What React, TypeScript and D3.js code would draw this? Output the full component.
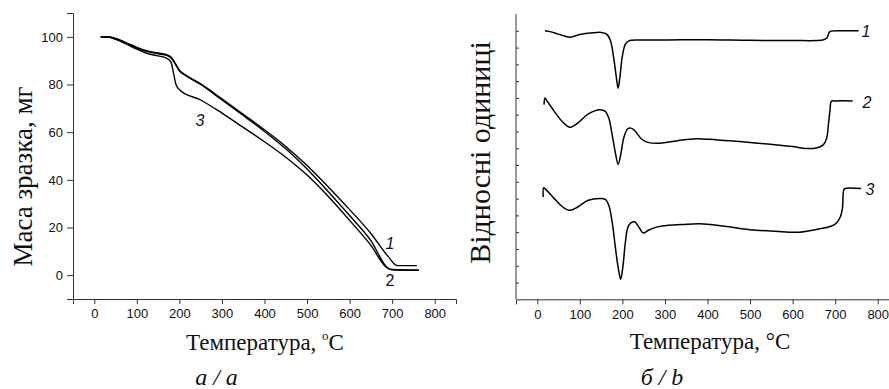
import * as d3 from "d3";
import React, { useEffect, useRef } from "react";

// TG curves: [temperature °C, mass mg]
const tg1: [number, number][] = [
  [15, 100], [35, 99.9], [50, 99.3], [75, 97.6], [100, 95.6], [125, 94.1], [150, 93.2], [170, 92.5],
  [180, 91.5], [190, 89], [200, 86], [215, 84], [250, 80.3], [300, 74], [350, 67.5], [400, 61],
  [450, 54], [500, 46], [550, 37], [600, 27.5], [650, 17.5], [690, 8], [712, 4], [740, 4], [758, 4],
];
const tg2: [number, number][] = [
  [15, 100], [35, 99.9], [50, 99.2], [75, 97.3], [100, 95.3], [125, 93.8], [150, 92.9], [170, 92.2],
  [180, 91.2], [190, 88.7], [200, 85.7], [215, 83.7], [250, 80], [300, 73.5], [350, 67], [400, 60.3],
  [450, 53], [500, 44.5], [550, 35], [600, 25], [650, 14.5], [690, 3], [700, 2.4], [763, 2.2],
];
const tg3: [number, number][] = [
  [15, 100], [35, 99.8], [50, 99.0], [75, 97.0], [100, 94.8], [125, 93.0], [150, 92.0], [170, 91.0],
  [180, 89.5], [186, 85], [192, 80], [202, 77.5], [250, 73.5], [300, 68], [350, 62], [400, 56],
  [450, 49.5], [500, 42], [550, 33], [600, 23], [650, 12.5], [688, 3], [700, 2.2], [763, 2],
];

// DTA curves: [temperature °C, relative units]
const dta1: [number, number][] = [
  [18, 16.0], [30, 15.95], [50, 15.8], [77, 15.62], [100, 15.78], [130, 15.88], [150, 15.9], [163, 15.8],
  [172, 15.4], [180, 14.3], [186, 13.2], [190, 12.57], [194, 13.2], [200, 14.5], [207, 15.2], [215, 15.4],
  [240, 15.45], [300, 15.45], [400, 15.47], [500, 15.43], [600, 15.42], [671, 15.45], [680, 15.55],
  [686, 15.9], [690, 15.98], [720, 16.0], [755, 16.0],
];
const dta2: [number, number][] = [
  [16, 11.6], [18, 12.0], [22, 11.85], [40, 11.2], [60, 10.55], [77, 10.25], [95, 10.5], [120, 11.05],
  [147, 11.3], [160, 11.2], [168, 10.8], [176, 9.8], [183, 8.8], [190, 8.05], [196, 8.6], [203, 9.6],
  [212, 10.15], [220, 10.2], [229, 10.05], [245, 9.55], [260, 9.35], [288, 9.3], [330, 9.45], [374, 9.57],
  [420, 9.5], [476, 9.4], [554, 9.22], [600, 9.1], [632, 8.98], [660, 9.05], [672, 9.2], [680, 9.6],
  [684, 10.4], [688, 11.3], [691, 11.8], [700, 11.82], [741, 11.82],
];
const dta3: [number, number][] = [
  [14, 6.1], [15, 6.65], [20, 6.55], [40, 6.0], [60, 5.5], [77, 5.3], [95, 5.5], [120, 5.9], [147, 6.0],
  [160, 5.95], [168, 5.6], [176, 4.6], [183, 3.2], [190, 1.9], [196, 1.2], [201, 1.9], [207, 3.4],
  [213, 4.3], [220, 4.55], [229, 4.62], [240, 4.25], [249, 3.95], [260, 4.1], [280, 4.3], [304, 4.4],
  [340, 4.45], [382, 4.5], [440, 4.35], [499, 4.15], [560, 4.05], [616, 4.0], [664, 4.2], [690, 4.35],
  [703, 4.55], [712, 4.9], [717, 5.4], [720, 6.5], [723, 6.6], [761, 6.6],
];

const xMajor = [0, 100, 200, 300, 400, 500, 600, 700, 800];
const xMinor = [50, 150, 250, 350, 450, 550, 650, 750, 850];
const yMajorTG = [0, 20, 40, 60, 80, 100];
const yMinorTG = [-10, 10, 30, 50, 70, 90, 110];
const yTicksDTA = d3.range(1, 17);

const sans = "'Liberation Sans', Arial, sans-serif";
const serif = "'Liberation Serif', 'Times New Roman', serif";

const App: React.FC = () => {
  const ref = useRef<SVGGElement>(null);

  useEffect(() => {
    if (!ref.current) return;
    const root = d3.select(ref.current);
    root.selectAll("*").remove();

    // ---- panel a: TG ----
    const xa = d3.scaleLinear().domain([-50, 850]).range([73, 456]);
    const ya = d3.scaleLinear().domain([-10, 110]).range([299, 13]);

    const ga = root.append("g");
    const axB = ga.append("g").attr("transform", `translate(0,${ya(-10)})`);
    axB.call(d3.axisBottom(xa).tickValues(xMinor).tickSize(3).tickFormat(() => ""));
    axB.call(d3.axisBottom(xa).tickValues(xMajor).tickSize(5).tickPadding(5).tickFormat(d3.format("d")));
    const axL = ga.append("g").attr("transform", `translate(${xa(-50)},0)`);
    axL.call(d3.axisLeft(ya).tickValues(yMinorTG).tickSize(3).tickFormat(() => ""));
    axL.call(d3.axisLeft(ya).tickValues(yMajorTG).tickSize(6).tickPadding(4).tickFormat(d3.format("d")));

    const lineA = d3.line<[number, number]>().x(d => xa(d[0])).y(d => ya(d[1])).curve(d3.curveMonotoneX);
    [tg1, tg2, tg3].forEach(s => {
      ga.append("path").attr("d", lineA(s)).attr("fill", "none").attr("stroke", "#000").attr("stroke-width", 1.4);
    });

    // ---- panel b: DTA ----
    const xb = d3.scaleLinear().domain([-50, 850]).range([516, 899]);
    const yb = d3.scaleLinear().domain([0, 17]).range([299.3, 14]);

    const gb = root.append("g");
    const bxB = gb.append("g").attr("transform", `translate(0,${yb(0)})`);
    bxB.call(d3.axisBottom(xb).tickValues(xMinor).tickSize(3).tickFormat(() => ""));
    bxB.call(d3.axisBottom(xb).tickValues(xMajor).tickSize(5).tickPadding(5).tickFormat(d3.format("d")));
    const bxL = gb.append("g").attr("transform", `translate(${xb(-50)},0)`);
    bxL.call(d3.axisRight(yb).tickValues(yTicksDTA).tickSize(3).tickFormat(() => ""));
    bxL.select(".domain").attr("d", `M0,${yb(17)}V${yb(0)}`);

    const lineB = d3.line<[number, number]>().x(d => xb(d[0])).y(d => yb(d[1])).curve(d3.curveCatmullRom.alpha(0.5));
    [dta1, dta2, dta3].forEach(s => {
      gb.append("path").attr("d", lineB(s)).attr("fill", "none").attr("stroke", "#000").attr("stroke-width", 1.5);
    });

    root.selectAll(".tick text").attr("font-family", sans).attr("font-size", 13).attr("fill", "#111");
    root.selectAll(".domain, .tick line").attr("stroke", "#333").attr("stroke-width", 1);
  }, []);

  return (
    <svg width={889} height={389} style={{ position: "fixed", left: 0, top: 0, background: "#fff" }}>
      <g ref={ref} />
      <g fontFamily={serif} fill="#111">
        <text x={265} y={350} fontSize={23} textAnchor="middle">
          Температура, <tspan fontSize={13} dy={-10}>o</tspan><tspan dy={10}>C</tspan>
        </text>
        <text x={710} y={349} fontSize={23} textAnchor="middle">Температура, °C</text>
        <text transform="translate(31.5,176.5) rotate(-90)" fontSize={27} textAnchor="middle">Маса зразка, мг</text>
        <text transform="translate(490,152.5) rotate(-90)" fontSize={30} textAnchor="middle">Відносні одиниці</text>
        <text x={216.5} y={385} fontSize={24} fontStyle="italic" textAnchor="middle">a / a</text>
        <text x={662} y={385} fontSize={24} fontStyle="italic" textAnchor="middle">б / b</text>
      </g>
      <g fontFamily={sans} fontSize={16} fill="#111" textAnchor="middle">
        <text x={200} y={126} fontStyle="italic">3</text>
        <text x={390} y={249} fontStyle="italic">1</text>
        <text x={390} y={286}>2</text>
        <text x={866} y={37} fontStyle="italic">1</text>
        <text x={867} y={108} fontStyle="italic">2</text>
        <text x={870} y={195} fontStyle="italic">3</text>
      </g>
    </svg>
  );
};

export default App;
